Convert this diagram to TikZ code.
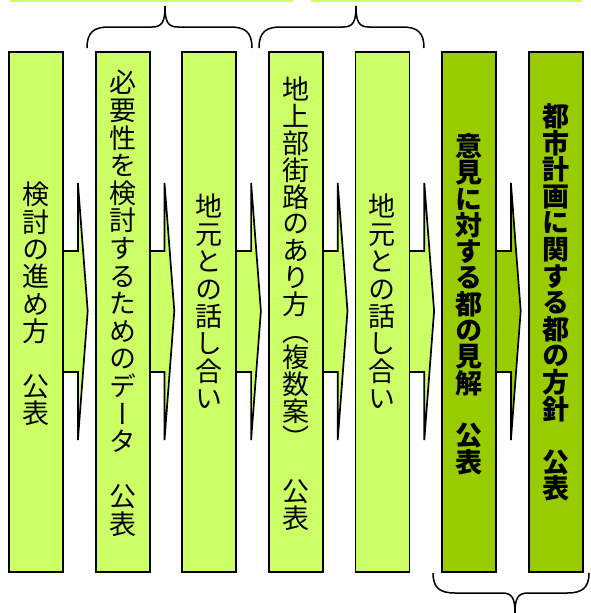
\documentclass[tikz,border=0pt]{standalone}
\usepackage{fontspec}
\setmainfont{Noto Sans CJK JP}[RawFeature=+vert]
\usetikzlibrary{calc}
\definecolor{lightgr}{HTML}{CCFF66}
\definecolor{darkgr}{HTML}{99CC00}
\newcommand\vfont[1]{\fontsize{27}{#1}\selectfont\lineskiplimit=-100pt\relax}
\newcommand\flowarrow[3]{%
  \filldraw[arrowshape, fill=#3]
    ($(#1.east)+(-6,-61)$) -- ($(#1.east)+(14,-61)$) -- ($(#1.east)+(14,-129)$)
    -- ($(#2.west)+(-7,-1)$) -- ($(#1.east)+(14,128)$) -- ($(#1.east)+(14,60)$)
    -- ($(#1.east)+(-6,60)$) -- cycle;}
\newcommand\topbrace[3]{% left, peak, right
  \draw[bracestyle] (#1,48) .. controls (#1,32) and (#1+7,27) .. (#1+22,27)
    -- (#2-13,27) .. controls (#2-3,27) and (#2,22) .. (#2,6)
    .. controls (#2,22) and (#2+3,27) .. (#2+13,27)
    -- (#3-22,27) .. controls (#3-7,27) and (#3,32) .. (#3,48);}
\begin{document}
\begin{tikzpicture}[x=1pt,y=-1pt,
  boxstyle/.style={draw=black, line width=1.8pt, minimum width=54pt, minimum height=520pt, inner sep=0pt},
  arrowshape/.style={draw=black, line width=1.7pt, line join=miter},
  vtxt/.style={align=center, inner sep=0pt, font=\vfont{#1}},
  vtxt/.default=27.4,
  boldtxt/.style={align=center, inner sep=0pt, font=\vfont{#1}\bfseries},
  boldtxt/.default=26.5,
  bracestyle/.style={draw=black, line width=1.5pt},
  edgeline/.style={draw=lightgr, line width=1.6pt}]
\useasboundingbox (0,0) rectangle (591,613);

% cut-off edges at the top
\draw[edgeline] (10,0.8) -- (293,0.8);
\draw[edgeline] (311,0.8) -- (582,0.8);

% box anchors
\path (36,312)    node[boxstyle, draw=none] (b1) {}
      (122.6,312) node[boxstyle, draw=none] (b2) {}
      (209.2,312) node[boxstyle, draw=none] (b3) {}
      (295.8,312) node[boxstyle, draw=none] (b4) {}
      (382.4,312) node[boxstyle, draw=none] (b5) {}
      (469,312)   node[boxstyle, draw=none] (b6) {}
      (555.6,312) node[boxstyle, draw=none] (b7) {};

% arrows
\flowarrow{b1}{b2}{lightgr}
\flowarrow{b2}{b3}{lightgr}
\flowarrow{b3}{b4}{lightgr}
\flowarrow{b4}{b5}{lightgr}
\flowarrow{b5}{b6}{lightgr}
\flowarrow{b6}{b7}{darkgr}

% visible boxes
\foreach \n in {b1,b2,b3,b4,b5}{\node[boxstyle, fill=lightgr] at (\n) {};}
\foreach \n in {b6,b7}{\node[boxstyle, fill=darkgr] at (\n) {};}

% texts
\node[vtxt] (t1) at (36,304) {検\\討\\の\\進\\め\\方\\　\\公\\表};
\node[vtxt=27.6] (t2) at (122.6,303.5) {必\\要\\性\\を\\検\\討\\す\\る\\た\\め\\の\\デ\\ー\\タ\\　\\公\\表};
\node[vtxt] (t3) at (209.2,301.5) {地\\元\\と\\の\\話\\し\\合\\い};
\node[vtxt=26.8] (t4) at (295.8,304) {地\\上\\部\\街\\路\\の\\あ\\り\\方\\（\\複\\数\\案\\）\\　\\公\\表};
\node[vtxt] (t5) at (382.4,301.5) {地\\元\\と\\の\\話\\し\\合\\い};
\node[boldtxt=26.3] (t6) at (469,304) {意\\見\\に\\対\\す\\る\\都\\の\\見\\解\\　\\公\\表};
\node[boldtxt=26.6] (t7) at (555.6,302.5) {都\\市\\計\\画\\に\\関\\す\\る\\都\\の\\方\\針\\　\\公\\表};

% braces
\topbrace{87}{165}{252}
\topbrace{259}{356}{424}
\draw[bracestyle] (433,573) .. controls (433,588) and (440,593) .. (455,593)
  -- (502,593) .. controls (512,593) and (515,598) .. (515,613)
  .. controls (515,598) and (518,593) .. (528,593)
  -- (567,593) .. controls (582,593) and (589,588) .. (589,573);
\end{tikzpicture}
\end{document}
